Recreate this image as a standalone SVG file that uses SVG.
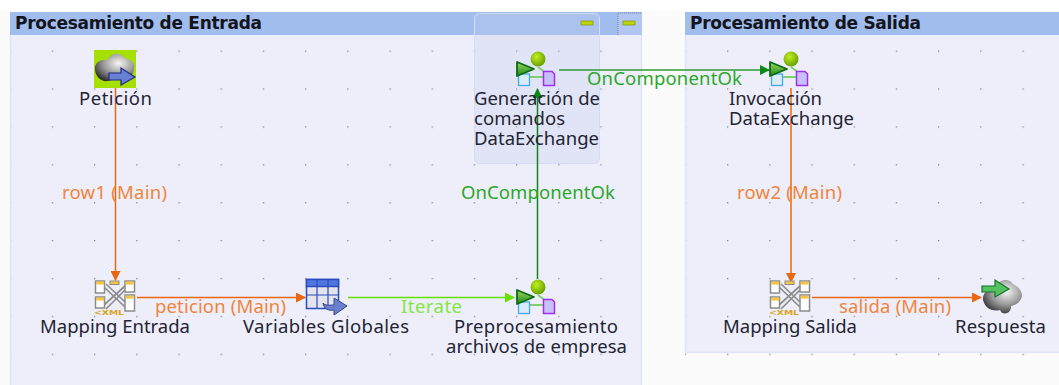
<svg xmlns="http://www.w3.org/2000/svg" xmlns:xlink="http://www.w3.org/1999/xlink" width="1059" height="385" viewBox="0 0 1059 385">
<style>
.title{font:bold 17px "DejaVu Sans",sans-serif;fill:#14141c}
.lbl{font:18.500px "Noto Sans","DejaVu Sans",sans-serif;fill:#1f2433}
.or{font:18.500px "Noto Sans","DejaVu Sans",sans-serif;fill:#f0853a}
.gr{font:18.500px "Noto Sans","DejaVu Sans",sans-serif;fill:#2aa82a}
.lg{font:18.500px "Noto Sans","DejaVu Sans",sans-serif;fill:#80e840}
.c{fill:none;stroke-width:1.500}
</style>
<defs>
<pattern id="dots" x="9.600" y="12.600" width="42.200" height="37.900" patternUnits="userSpaceOnUse">
<rect width="1.300" height="1.300" fill="#85868e"/>
</pattern>
<marker id="ao" markerWidth="10" markerHeight="10" refX="9" refY="5" orient="auto" markerUnits="userSpaceOnUse"><path d="M0 0L10 5L0 10z" fill="#e8670f"/></marker>
<marker id="ag" markerWidth="10" markerHeight="10" refX="9" refY="5" orient="auto" markerUnits="userSpaceOnUse"><path d="M0 0L10 5L0 10z" fill="#0a8a14"/></marker>
<marker id="al" markerWidth="10" markerHeight="10" refX="9" refY="5" orient="auto" markerUnits="userSpaceOnUse"><path d="M0 0L10 5L0 10z" fill="#66e000"/></marker>
<linearGradient id="tri" x1="0" y1="0" x2="0" y2="1"><stop offset="0" stop-color="#9ad860"/><stop offset="1" stop-color="#1f8a1a"/></linearGradient>
<radialGradient id="ball" cx=".4" cy=".35" r=".7"><stop offset="0" stop-color="#c4ee20"/><stop offset="1" stop-color="#5f9c00"/></radialGradient>
<radialGradient id="cloud" cx=".6" cy=".35" r=".7"><stop offset="0" stop-color="#f6f6f6"/><stop offset=".55" stop-color="#9a9a9a"/><stop offset="1" stop-color="#333"/></radialGradient>
<g id="proc">
<path d="M22 6L34 15M12 16H28" stroke="#7fd070" stroke-width="1.800" fill="none"/>
<rect x="2.500" y="13" width="11" height="11.500" fill="#d8ecfb" stroke="#4aa8f0" stroke-width="1.300"/>
<path d="M27.500 10.500H36L38.500 13V24.500H27.500z" fill="#c8c0fb" stroke="#a030f0" stroke-width="1.500"/>
<path d="M1 1L18 8L1 15z" fill="url(#tri)" stroke="#0e6a12" stroke-width="1.800" stroke-linejoin="round"/>
<circle cx="22" cy="-2" r="7.500" fill="url(#ball)"/>
</g>
<g id="map">
<path d="M10 8L31 28M10 26L31 7M12 5L31 23M12 30L31 11" stroke="#8c8c8c" stroke-width="1.700" fill="none"/>
<g fill="#fff" stroke="#8c8c8c" stroke-width="1.500">
<rect x="1.500" y="2" width="9" height="12"/><rect x="1.500" y="18" width="9" height="11"/>
<rect x="31" y="2" width="9.500" height="11"/><rect x="31" y="16" width="9.500" height="16"/>
</g>
<g fill="#f6c445"><rect x="2.200" y="2.600" width="8" height="3"/><rect x="2.200" y="18.600" width="8" height="3"/><rect x="31.600" y="2.600" width="8" height="3"/><rect x="31.600" y="16.600" width="8" height="3"/><rect x="16" y="2" width="9" height="3.500" stroke="#8c8c8c"/></g>
<text x="0" y="35.500" style="font:bold 7px 'DejaVu Sans',sans-serif;fill:#d8a520" textLength="30" lengthAdjust="spacingAndGlyphs">&lt;XML</text>
</g>
</defs>

<rect width="1059" height="385" fill="#fbfbfb"/>
<rect width="1059" height="11" fill="#fff"/>

<g id="panel-entrada">
<rect x="10" y="12" width="632" height="373" fill="#eeeefa"/>
<rect x="10" y="12" width="632" height="373" fill="url(#dots)"/>
<rect x="10" y="12" width="632" height="23" fill="#a1bdee"/>
<path d="M10.500 35V385M641.500 35V385" stroke="#dfe4f6" stroke-width="1.500" fill="none"/>
<text class="title" x="15" y="29" textLength="247">Procesamiento de Entrada</text>
<rect x="618" y="13" width="24" height="22" fill="#b1c7f1"/>
<path d="M618 35V13H642" stroke="#7d8594" stroke-width="1" stroke-dasharray="1 1" fill="none"/>
<rect x="623" y="21" width="12" height="4" fill="#bdd600" stroke="#8a9a20" stroke-width=".8"/>
</g>

<g id="panel-salida">
<rect x="685" y="12" width="374" height="341" fill="#eeeefa"/>
<rect x="685" y="12" width="374" height="373" fill="url(#dots)"/>
<rect x="685" y="12" width="374" height="23" fill="#a1bdee"/>
<path d="M685.500 35V352.500H1059" stroke="#dfe4f6" stroke-width="1.500" fill="none"/>
<text class="title" x="690" y="29" textLength="231">Procesamiento de Salida</text>
</g>

<g id="seleccion">
<rect x="474.500" y="13.500" width="125" height="150" rx="5" fill="#c4cdf0" fill-opacity=".3" stroke="#d3dcf5"/>
<rect x="581" y="21" width="12" height="4" fill="#bdd600" stroke="#8a9a20" stroke-width=".8"/>
</g>

<g id="connectors">
<path class="c" stroke="#e8670f" d="M115.500 88V280" marker-end="url(#ao)"/>
<path class="c" stroke="#e8670f" d="M137 297.500H305" marker-end="url(#ao)"/>
<path class="c" stroke="#66e000" d="M348 297.500H514" marker-end="url(#al)"/>
<path class="c" stroke="#0a8a14" d="M537.500 279V89" marker-end="url(#ag)"/>
<path class="c" stroke="#2f9a35" d="M559 70H769" marker-end="url(#ag)"/>
<path class="c" stroke="#e8670f" d="M791 88V282" marker-end="url(#ao)"/>
<path class="c" stroke="#e8670f" d="M812 297.500H981" marker-end="url(#ao)"/>
</g>

<g id="edge-labels">
<text class="or" x="62" y="199" textLength="105">row1 (Main)</text>
<text class="or" x="155" y="313" textLength="131">peticion (Main)</text>
<text class="lg" x="401" y="313" textLength="61">Iterate</text>
<text class="gr" x="461" y="199" textLength="154">OnComponentOk</text>
<text class="gr" x="587" y="85" textLength="155">OnComponentOk</text>
<text class="or" x="737" y="199" textLength="105">row2 (Main)</text>
<text class="or" x="839" y="313" textLength="112">salida (Main)</text>
</g>

<g id="node-peticion">
<rect x="94" y="50" width="42" height="38" fill="#a6e000"/>
<path d="M95 70C94 63 100 59 108 60C110 52 122 52 124 58C130 59 136 63 134 68C134 76 128 78 122 77L108 81C101 82 96 77 95 70z" fill="url(#cloud)"/>
<path d="M109 73H121V68L135 77L121 85V80H109z" fill="#6a80d0" stroke="#1c2a8c" stroke-width="1.200"/>
<text class="lbl" x="79" y="105" textLength="73">Petición</text>
</g>

<g id="node-mapping-entrada">
<use xlink:href="#map" href="#map" x="94" y="279"/>
<text class="lbl" x="40" y="333" textLength="150">Mapping Entrada</text>
</g>

<g id="node-variables">
<rect x="306.500" y="279.500" width="32" height="29" fill="#e4e4ec" stroke="#2b4bc0" stroke-width="1.500"/>
<rect x="306.500" y="279.500" width="32" height="7" fill="#5078e0" stroke="#2b4bc0" stroke-width="1.500"/>
<path d="M317 280V308M328 280V308M307 295H338" stroke="#2b4bc0" stroke-width="1.200"/>
<path d="M323 303C325 306 330 305 334 305V298L347 306L334 315V310C328 311 324 309 323 303z" fill="#6a80cc" stroke="#35478f"/>
<text class="lbl" x="243" y="333" textLength="166">Variables Globales</text>
</g>

<g id="node-preprocesamiento">
<use xlink:href="#proc" href="#proc" x="516" y="289"/>
<text class="lbl" x="454" y="333" textLength="164">Preprocesamiento</text>
<text class="lbl" x="446" y="353" textLength="181">archivos de empresa</text>
</g>

<g id="node-generacion">
<use xlink:href="#proc" href="#proc" x="516" y="61"/>
<text class="lbl" x="474" y="105" textLength="126">Generación de</text>
<text class="lbl" x="474" y="125" textLength="91">comandos</text>
<text class="lbl" x="474" y="145" textLength="125">DataExchange</text>
</g>

<g id="node-invocacion">
<use xlink:href="#proc" href="#proc" x="769" y="61"/>
<text class="lbl" x="729" y="105" textLength="93">Invocación</text>
<text class="lbl" x="729" y="125" textLength="125">DataExchange</text>
</g>

<g id="node-mapping-salida">
<use xlink:href="#map" href="#map" x="769" y="279"/>
<text class="lbl" x="723" y="333" textLength="134">Mapping Salida</text>
</g>

<g id="node-respuesta">
<path d="M983 300C982 292 990 288 996 288C998 278 1010 278 1013 284C1020 287 1024 294 1021 299C1018 305 1013 305 1011 306C1012 314 1002 316 1000 310C992 312 985 308 983 300z" fill="url(#cloud)"/>
<path d="M982 286H995V280L1009 289L995 297V292H982z" fill="#55c060" stroke="#17722a" stroke-width="1.200"/>
<text class="lbl" x="955" y="333" textLength="91">Respuesta</text>
</g>
</svg>
